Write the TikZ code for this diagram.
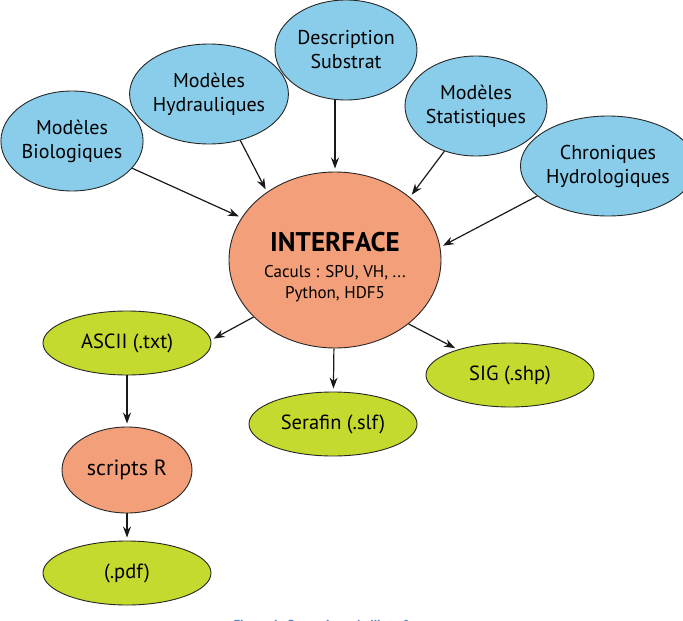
\documentclass[tikz,border=0pt]{standalone}
\usepackage{fontspec}
\setmainfont{PT Sans}
\usetikzlibrary{positioning,arrows.meta,shapes}
\definecolor{bleu}{RGB}{137,205,234}
\definecolor{saumon}{RGB}{243,160,122}
\definecolor{vert}{RGB}{197,218,46}
\definecolor{legende}{RGB}{79,129,189}

\begin{document}
\begin{tikzpicture}[>={Stealth[width=8pt,length=11pt]}, shorten >=3pt,
	forme/.style={ellipse, draw=black!85, line width=0.9pt, inner sep=0pt, align=center},
	modele/.style={forme, fill=bleu, minimum width=142pt, minimum height=100pt, font=\fontsize{20}{24}\selectfont},
	sortie/.style={forme, fill=vert, minimum width=168pt, minimum height=64pt, font=\fontsize{20.5}{24}\selectfont},
	calcul/.style={forme, fill=saumon, font=\fontsize{17}{21}\selectfont},
	fleche/.style={->, line width=1.2pt, black!90}]
		\useasboundingbox (0pt, 0pt) rectangle (683pt, -621pt);
		\draw (72.0pt, -141.0pt)node[modele](bio){Modèles\\Biologiques};
		\draw (209.0pt, -94.0pt)node[modele](hydrau){Modèles\\Hydrauliques};
		\draw (346.0pt, -50.0pt)node[modele](substrat){Description\\Substrat};
		\draw (476.0pt, -106.0pt)node[modele](stat){Modèles\\Statistiques};
		\draw (608.0pt, -166.0pt)node[modele](chron){Chroniques\\Hydrologiques};
		\draw (335.0pt, -260.0pt)node[calcul, minimum width=212pt, minimum height=176pt](iface){\rule{0pt}{34pt}{\fontsize{27}{30}\selectfont\bfseries INTERFACE}\\[5pt]Caculs : SPU, VH, ...\\Python, HDF5};
		\draw (127.0pt, -343.0pt)node[sortie](ascii){ASCII (.txt)};
		\draw (127.0pt, -470.0pt)node[calcul, minimum width=130pt, minimum height=86pt, font=\fontsize{22}{26}\selectfont](scripts){scripts R};
		\draw (127.0pt, -573.0pt)node[sortie](pdf){(.pdf)};
		\draw (333.0pt, -424.0pt)node[sortie](serafin){Serafin (.slf)};
		\draw (510.0pt, -375.0pt)node[sortie](sig){SIG (.shp)};
		\draw (230.0pt, -629.5pt)node[anchor=base west, text=legende, font=\fontsize{13}{15}\selectfont\bfseries](legende){Figure 1: Synoptique de l'interface};
		\path[fleche] (bio) edge (iface);
		\path[fleche] (hydrau.304) edge (iface.135);
		\path[fleche] (substrat.south -| iface.north) edge (iface.north);
		\path[fleche] (stat.235) edge (iface.40);
		\path[fleche] (chron.203) edge (iface.7);
		\path[fleche] (iface.215) edge (ascii.2);
		\path[fleche] (iface) edge (serafin);
		\path[fleche] (iface.319) edge (sig.154);
		\path[fleche] (ascii) edge (scripts);
		\path[fleche] (scripts) edge (pdf);
\end{tikzpicture}
\end{document}
